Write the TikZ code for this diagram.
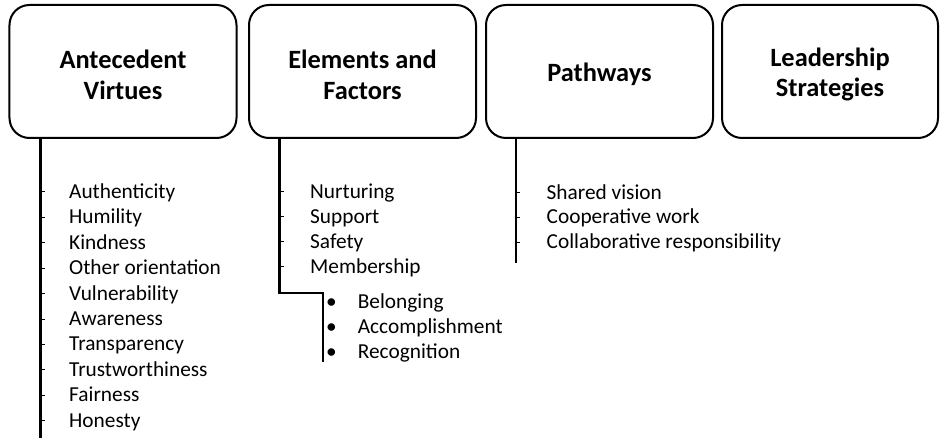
\documentclass[tikz,border=0pt]{standalone}
\usepackage{fontspec}
\setmainfont{Carlito}
\begin{document}
\begin{tikzpicture}[x=1bp,y=-1bp,
  box/.style={draw, line width=2bp, rounded corners=20bp, minimum width=227bp, minimum height=133bp, inner sep=0pt},
  head/.style={align=center, inner sep=0pt, font=\bfseries\fontsize{26.5}{31}\selectfont},
  item/.style={anchor=base west, inner sep=0pt, font=\fontsize{21.4}{25}\selectfont},
  stem/.style={line width=2.4bp},
  tick/.style={line width=0.8bp}
]
\useasboundingbox (0,0) rectangle (940,438);
% boxes
\node[box] (b1) at (123,71.5) {};
\node[box] (b2) at (362.5,71.5) {};
\node[box] (b3) at (599.5,71.5) {};
\node[box, minimum width=216bp] (b4) at (830,71.5) {};
\node[head] (h1) at ([yshift=-3bp]b1.center) {Antecedent\\Virtues};
\node[head] (h2) at ([yshift=-3bp]b2.center) {Elements and\\Factors};
\node[head] (h3) at ([yshift=-3bp]b3.center) {Pathways};
\node[head] (h4) at ([yshift=-3bp]b4.center) {Leadership\\Strategies};

% column 1
\coordinate (s1) at (40.5,138);
\coordinate (e1) at (40.5,438);
\draw[stem] (b1.south -| s1) -- (e1);
\foreach \t [count=\i] in {Authenticity,Humility,Kindness,Other orientation,Vulnerability,Awareness,Transparency,Trustworthiness,Fairness,Honesty}{
  \node[item] (a\i) at (69,{198.3+(\i-1)*25.44}) {\t};
  \draw[tick] ([yshift=6.5bp]a\i.base west -| s1) -- ++(4,0);
}

% column 2
\coordinate (s2) at (279.5,138);
\coordinate (k2) at (279.5,293);
\coordinate (k3) at (323,293);
\coordinate (e2) at (323,362.5);
\draw[stem] (b2.south -| s2) -- (k2) -- (k3) -- (e2);
\foreach \t [count=\i] in {Nurturing,Support,Safety,Membership}{
  \node[item] (n\i) at (310,{198.3+(\i-1)*25}) {\t};
  \draw[tick] ([yshift=6.5bp]n\i.base west -| s2) -- ++(4,0);
}
\foreach \t [count=\i] in {Belonging,Accomplishment,Recognition}{
  \node[item] (m\i) at (326,{308.3+(\i-1)*25}) {\makebox[31.7bp][l]{•}\t};
}

% column 3
\coordinate (s3) at (516,138);
\coordinate (e3) at (516,263);
\draw[stem] (b3.south -| s3) -- (e3);
\foreach \t [count=\i] in {Shared vision,Cooperative work,Collaborative responsibility}{
  \node[item] (p\i) at (546.5,{199.3+(\i-1)*24.6}) {\t};
  \draw[tick] ([yshift=6.5bp]p\i.base west -| s3) -- ++(4,0);
}
\end{tikzpicture}
\end{document}
